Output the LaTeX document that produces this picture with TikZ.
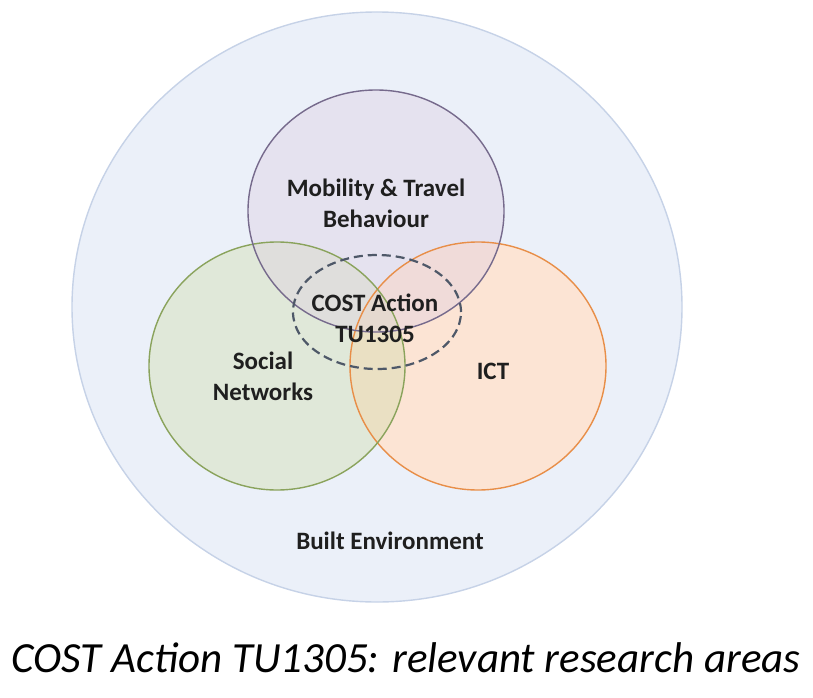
\documentclass[tikz,border=0pt]{standalone}
\usepackage{fontspec}
\setmainfont{Carlito}
\usepackage{tikz}
\usetikzlibrary{shapes,positioning}

\definecolor{envfill}{RGB}{235,240,249}
\definecolor{envline}{RGB}{198,210,231}
\definecolor{mobfill}{RGB}{222,207,226}
\definecolor{mobline}{RGB}{118,106,140}
\definecolor{socfill}{RGB}{208,220,170}
\definecolor{socline}{RGB}{138,163,92}
\definecolor{ictfill}{RGB}{252,228,212}
\definecolor{ictline}{RGB}{232,142,72}
\definecolor{costline}{RGB}{78,88,104}

\begin{document}
\begin{tikzpicture}[x=1pt,y=-1pt]
			\tikzstyle{Area}	= [ellipse, draw, inner sep=0pt, line width=1.4pt, minimum width=256pt, minimum height=248pt]
			\tikzstyle{Env}		= [fill=envfill, draw=envline, minimum width=610pt, minimum height=590pt]
			\tikzstyle{Mob}		= [fill=mobfill, fill opacity=0.4, draw=mobline, minimum height=242pt]
			\tikzstyle{Soc}		= [fill=socfill, fill opacity=0.4, draw=socline]
			\tikzstyle{ICT}		= [fill=ictfill, draw=ictline]
			\tikzstyle{Core}	= [ellipse, draw=costline, dashed, dash pattern=on 9pt off 5pt, line width=2.2pt, inner sep=0pt, minimum width=168pt, minimum height=114pt]
			\tikzstyle{Label}	= [font=\bfseries\fontsize{25}{31}\selectfont, align=center, inner sep=0pt, text=black!88]

			\useasboundingbox (0,0) rectangle (813,698);

			\node (env) at (377, 307) [Area][Env] {};
			\node (ict) at (478, 366) [Area][ICT, draw=none] {};
			\node (soc) at (277, 366) [Area][Soc, draw=none] {};
			\node (mob) at (376, 211) [Area][Mob, draw=none] {};

			% outlines on top of the fills
			\node (ictrim) at (ict.center) [Area][draw=ictline] {};
			\node (socrim) at (soc.center) [Area][draw=socline] {};
			\node (mobrim) at (mob.center) [Area][draw=mobline, minimum height=242pt] {};
			\node (cost) at (377, 312) [Core] {};

			\node (mobtext) at (376, 203) [Label] {Mobility \& Travel\\Behaviour};
			\node (costtext) at (375, 318) [Label] {COST Action\\TU1305};
			\node (soctext) at (263, 376) [Label] {Social\\Networks};
			\node (icttext) at (493, 379) [Label, anchor=base] {ICT};
			\node (envtext) at (390, 549) [Label, anchor=base] {Built Environment};

			\node (caption) at (406, 672) [anchor=base, inner sep=0pt, font=\itshape\fontsize{43}{50}\selectfont] {COST Action TU1305: relevant research areas};
		\end{tikzpicture}
\end{document}
